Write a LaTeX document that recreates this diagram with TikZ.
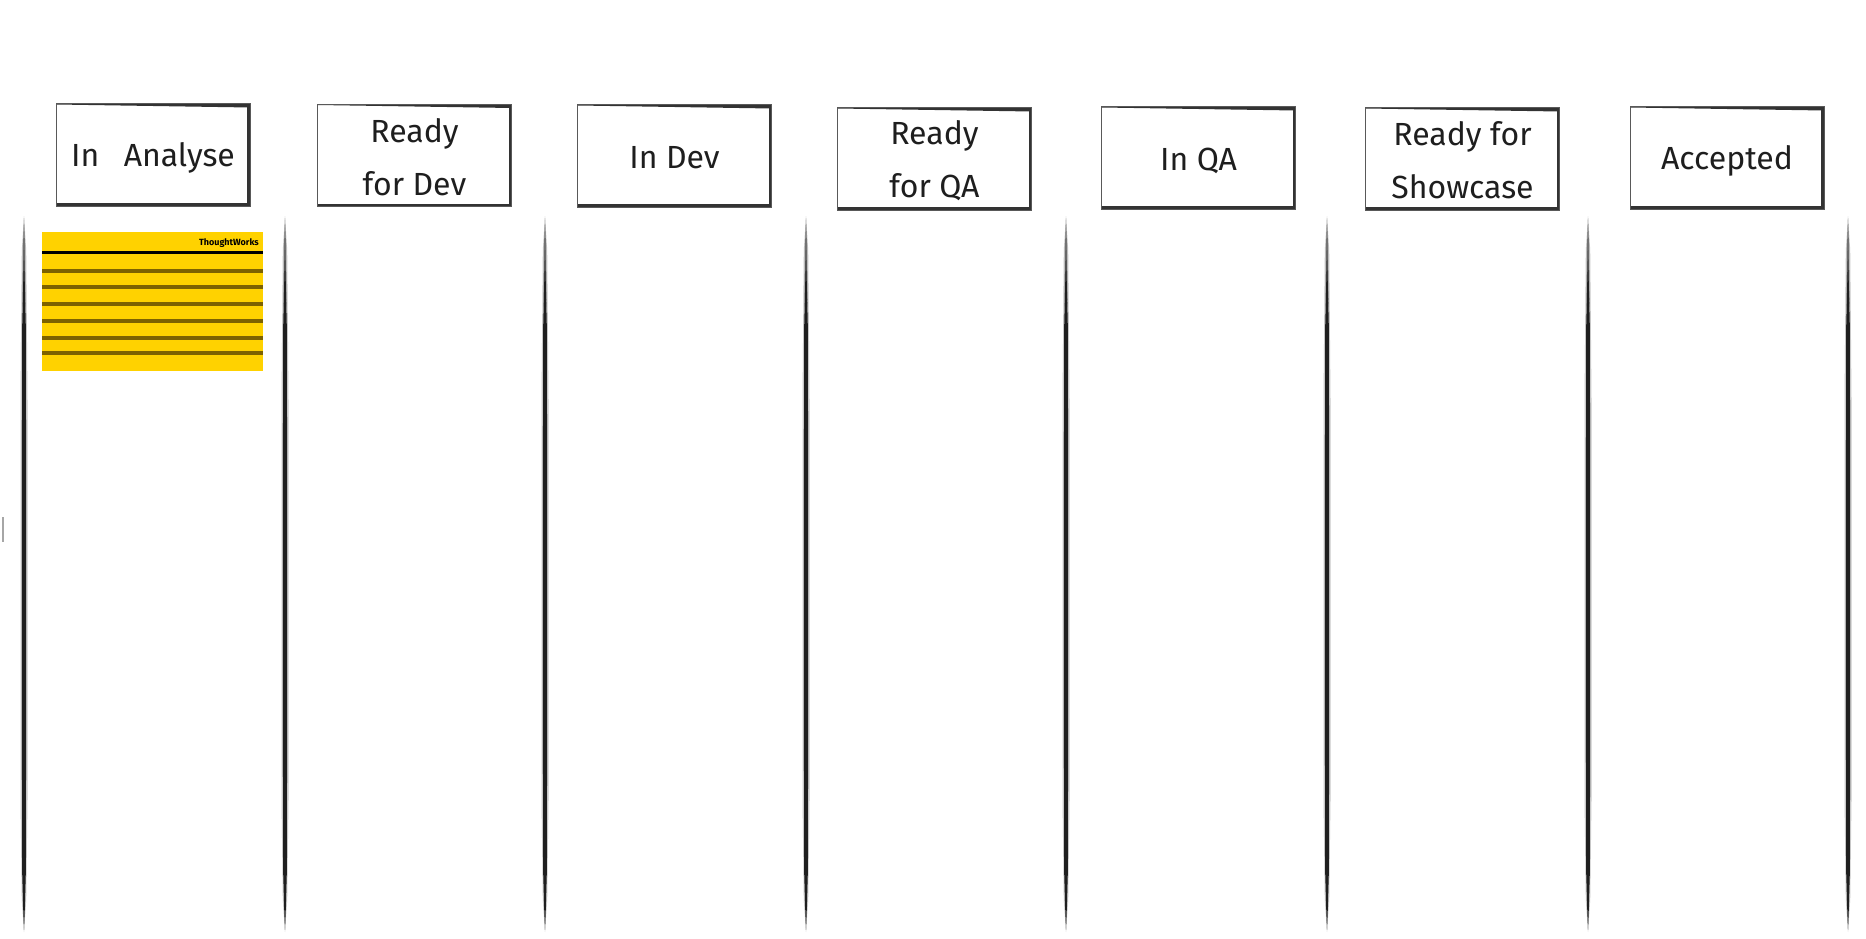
\documentclass[tikz,border=0pt]{standalone}
\usepackage{fontspec}
\setmainfont{Fira Sans}
\definecolor{cardyellow}{RGB}{255,210,0}
\definecolor{cardline}{RGB}{125,98,0}
\definecolor{ink}{RGB}{30,30,30}
\begin{document}
\begin{tikzpicture}[x=1pt,y=-1pt,
  hdrbox/.style={draw=black!65, line width=1pt, minimum width=194pt, minimum height=102pt, inner sep=0pt, fill=white,
    path picture={
      \draw[line width=6pt, black!80] (path picture bounding box.north east) -- (path picture bounding box.south east) -- (path picture bounding box.south west);
      \fill[black!80] (path picture bounding box.north west) -- (path picture bounding box.north east) -- ([yshift=-3.5pt]path picture bounding box.north east) -- ([yshift=-0.5pt]path picture bounding box.north west) -- cycle;
    }},
  hdrtext/.style={font=\fontsize{32}{53}\selectfont, text=ink, align=center, inner sep=0pt},
  brush/.style={fill=black!88},
  card/.style={fill=cardyellow, minimum width=221pt, minimum height=139pt, inner sep=0pt},
  cline/.style={draw=cardline, line width=3.5pt},
]
\useasboundingbox (0,0) rectangle (1866,939);

% column divider brush strokes
\foreach \x in {24,285,545,806,1066,1327,1588,1848}{
  \fill[black!22] (\x,216) -- (\x+2.2,250) -- (\x+3.5,400) -- (\x+3.5,800) -- (\x+2.2,900) -- (\x,932)
                 -- (\x-2.2,900) -- (\x-3.5,800) -- (\x-3.5,400) -- (\x-2.2,250) -- cycle;
  \fill[black!55] (\x,218) -- (\x+1,245) -- (\x+1.5,300) -- (\x,320) -- (\x-1.5,300) -- (\x-1,245) -- cycle;
  \fill[brush] (\x,250) -- (\x+1.9,330) -- (\x+2.2,600) -- (\x+1.9,870) -- (\x+0.7,912) -- (\x,930)
                 -- (\x-0.7,912) -- (\x-1.9,870) -- (\x-2.2,600) -- (\x-1.9,330) -- cycle;
}
\draw[black!35, line width=2pt] (3,517) -- (3,542);

% headers
\node[hdrbox] (b1) at (153,155) {};
\node[hdrtext] (t1) at (153,158) {In\hspace{0.5em} Analyse};
\node[hdrbox] (b2) at (414.5,155.5) {};
\node[hdrtext] (t2) at (414.5,157.5) {Ready\\for Dev};
\node[hdrbox] (b3) at (674.5,156) {};
\node[hdrtext] (t3) at (674.5,158) {In Dev};
\node[hdrbox] (b4) at (934.5,159) {};
\node[hdrtext] (t4) at (934.5,160.5) {Ready\\for QA};
\node[hdrbox] (b5) at (1198.5,158) {};
\node[hdrtext] (t5) at (1198.5,161) {In QA};
\node[hdrbox] (b6) at (1462.5,159) {};
\node[hdrtext] (t6) at (1462.5,160.5) {Ready for\\Showcase};
\node[hdrbox] (b7) at (1727,158) {};
\node[hdrtext] (t7) at (1727,161) {Accepted};

% story card
\node[card] (card) at (152.5,301.5) {};
\node[font=\fontsize{9}{10}\selectfont\bfseries, inner sep=0pt, anchor=east] (tw) at (259,243) {ThoughtWorks};
\draw[black, line width=3pt] (42,252) -- (263,252);
\foreach \y in {271,287,304,321,338,353}{
  \draw[cline] (42,\y) -- (263,\y);
}
\end{tikzpicture}
\end{document}
